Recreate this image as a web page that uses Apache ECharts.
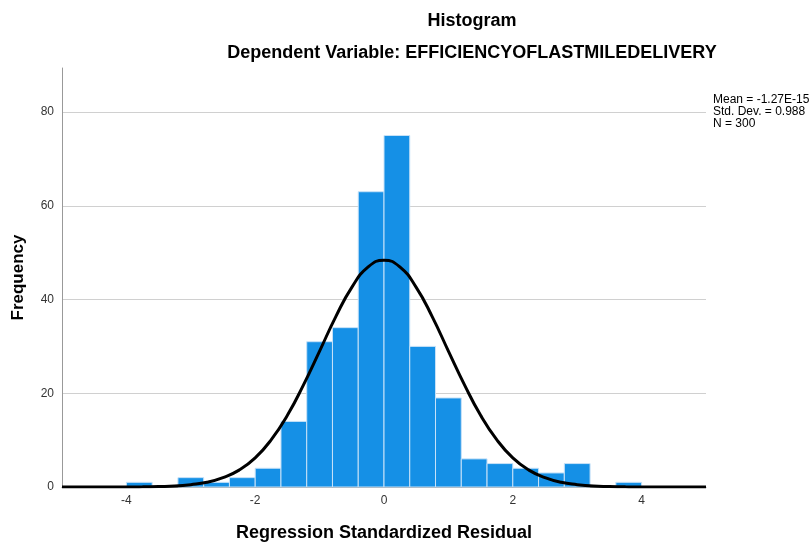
<!DOCTYPE html>
<html>
<head>
<meta charset="utf-8">
<script src="https://cdn.jsdelivr.net/npm/echarts@6/dist/echarts.min.js"></script>
<style>
  html, body { margin: 0; padding: 0; background: #fff; }
  #chart { width: 810px; height: 544px; }
</style>
</head>
<body>
<div id="chart"></div>
<script>
// bin left edges (width 0.4) and counts
const binWidth = 0.4
const binStarts = [-4.0, -3.6, -3.2, -2.8, -2.4, -2.0, -1.6, -1.2, -0.8, -0.4, 0.0, 0.4, 0.8, 1.2, 1.6, 2.0, 2.4, 2.8, 3.2, 3.6]
const counts = [1, 0, 2, 1, 2, 4, 14, 31, 34, 63, 75, 30, 19, 6, 5, 4, 3, 5, 0, 1]

// normal curve
const curveX = [-5, -4.5, -4, -3.75, -3.5, -3.25, -3, -2.75, -2.5, -2.25, -2, -1.75, -1.5, -1.25, -1, -0.75, -0.5, -0.25, 0,
  0.25, 0.5, 0.75, 1, 1.25, 1.5, 1.75, 2, 2.25, 2.5, 2.75, 3, 3.25, 3.5, 3.75, 4, 4.5, 5]
const curveY = [0, 0, 0, 0.03, 0.1, 0.2, 0.5, 1.0, 2.0, 3.6, 6.2, 10.1, 15.3, 21.8, 29.0, 36.3, 42.6, 46.9, 48.4,
  46.9, 42.6, 36.3, 29.0, 21.8, 15.3, 10.1, 6.2, 3.6, 2.0, 1.0, 0.5, 0.2, 0.1, 0.03, 0, 0, 0]

const xTicks = [-4, -2, 0, 2, 4]
const yTicks = [0, 20, 40, 60, 80]

const statsLines = ['Mean = -1.27E-15', 'Std. Dev. = 0.988', 'N = 300']

const chart = echarts.init(document.getElementById('chart'))

const font = '"Liberation Sans", Arial, sans-serif'

const option = {
  animation: false,
  textStyle: { fontFamily: font },
  title: [
    {
      text: 'Histogram',
      left: 467,
      top: 7,
      textAlign: 'center',
      textStyle: { fontSize: 18, fontWeight: 'bold', color: '#000', fontFamily: font }
    },
    {
      text: 'Dependent Variable: EFFICIENCYOFLASTMILEDELIVERY',
      left: 467,
      top: 39,
      textAlign: 'center',
      textStyle: { fontSize: 18, fontWeight: 'bold', color: '#000', fontFamily: font }
    }
  ],
  graphic: [
    {
      type: 'text',
      left: 713,
      top: 94,
      style: {
        text: statsLines.join('\n'),
        font: '12px ' + font,
        fill: '#000',
        lineHeight: 12
      }
    }
  ],
  grid: { left: 62, right: 104, top: 68, bottom: 57, outerBoundsMode: 'none' },
  xAxis: {
    type: 'value',
    min: -5,
    max: 5,
    interval: 1,
    name: 'Regression Standardized Residual',
    nameLocation: 'middle',
    nameGap: 37,
    nameTextStyle: { fontSize: 18, fontWeight: 'bold', color: '#000', fontFamily: font },
    axisLine: { show: true, lineStyle: { color: '#999' } },
    axisTick: { show: false },
    splitLine: { show: false },
    axisLabel: {
      color: '#333',
      fontSize: 12,
      margin: 8,
      formatter: v => (xTicks.indexOf(v) >= 0 ? String(v) : '')
    }
  },
  yAxis: {
    type: 'value',
    min: 0,
    max: 89.4,
    interval: 20,
    name: 'Frequency',
    nameLocation: 'middle',
    nameGap: 35,
    nameTextStyle: { fontSize: 17, fontWeight: 'bold', color: '#000', fontFamily: font },
    axisLine: { show: true, onZero: false, lineStyle: { color: '#999' } },
    axisTick: { show: false },
    splitLine: { show: true, showMaxLine: false, lineStyle: { color: '#d0d0d0', width: 1 } },
    axisLabel: {
      color: '#333',
      fontSize: 12,
      margin: 8,
      formatter: v => (yTicks.indexOf(v) >= 0 ? String(v) : '')
    }
  },
  series: [
    {
      type: 'custom',
      data: binStarts.map((s, i) => [s, counts[i]]),
      renderItem: (params, api) => {
        const start = api.value(0)
        const count = api.value(1)
        if (!count) return null
        const p0 = api.coord([start, count])
        const p1 = api.coord([start + binWidth, 0])
        return {
          type: 'rect',
          shape: { x: p0[0], y: p0[1], width: p1[0] - p0[0], height: p1[1] - p0[1] },
          style: { fill: '#1590e6', stroke: '#c8e2f8', lineWidth: 1 }
        }
      },
      z: 2
    },
    {
      type: 'line',
      data: curveX.map((x, i) => [x, curveY[i]]),
      smooth: true,
      showSymbol: false,
      lineStyle: { color: '#000', width: 3 },
      z: 3
    }
  ]
}

chart.setOption(option)
</script>
</body>
</html>
